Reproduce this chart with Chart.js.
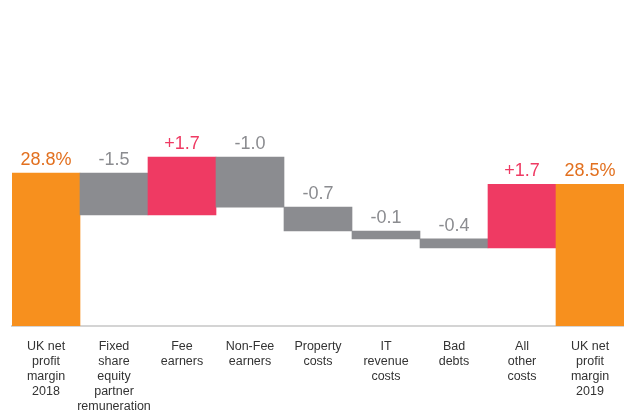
<!DOCTYPE html>
<html>
<head>
<meta charset="utf-8">
<script src="https://cdn.jsdelivr.net/npm/chart.js@4.4.1/dist/chart.umd.min.js"></script>
<style>
  html, body { margin: 0; padding: 0; background: #fff; }
  #wrap { width: 624px; height: 418px; }
</style>
</head>
<body>
<div id="wrap"><canvas id="grafico" width="624" height="418"></canvas></div>
<script>
// categorias (eixo X)
const categorias = [
  ['UK net', 'profit', 'margin', '2018'],
  ['Fixed', 'share', 'equity', 'partner', 'remuneration'],
  ['Fee', 'earners'],
  ['Non-Fee', 'earners'],
  ['Property', 'costs'],
  ['IT', 'revenue', 'costs'],
  ['Bad', 'debts'],
  ['All', 'other', 'costs'],
  ['UK net', 'profit', 'margin', '2019']
];

// rótulos mostrados acima de cada barra
const rotulos = ['28.8%', '-1.5', '+1.7', '-1.0', '-0.7', '-0.1', '-0.4', '+1.7', '28.5%'];

// tipo de cada barra: total, negativo, positivo
const tipos = ['total', 'neg', 'pos', 'neg', 'neg', 'neg', 'neg', 'pos', 'total'];

// níveis desenhados no gráfico (escala esquemática do original, não proporcional)
const inicio = [0, 28.8, 20.9, 31.8, 22.4, 17.9, 16.4, 14.7, 0];
const fim    = [28.8, 20.9, 31.8, 22.4, 17.9, 16.4, 14.7, 26.7, 26.7];

const coresBarra = { total: '#F7901E', neg: '#8B8C90', pos: '#EF3A63' };
const coresTexto = { total: '#E2701F', neg: '#8B8C90', pos: '#EF3A63' };

const dados = inicio.map((v, i) => [v, fim[i]]);

// plugin simples para escrever os valores acima das barras
const rotulosPlugin = {
  id: 'rotulos',
  afterDatasetsDraw(chart) {
    const ctx = chart.ctx;
    const meta = chart.getDatasetMeta(0);
    ctx.save();
    ctx.font = '18px "Liberation Sans", Arial, sans-serif';
    ctx.textAlign = 'center';
    ctx.textBaseline = 'alphabetic';
    meta.data.forEach((bar, i) => {
      const topo = Math.min(bar.y, bar.base);
      ctx.fillStyle = coresTexto[tipos[i]];
      ctx.fillText(rotulos[i], bar.x, topo - 8);
    });
    ctx.restore();
  }
};

const ctx = document.getElementById('grafico').getContext('2d');

new Chart(ctx, {
  type: 'bar',
  data: {
    labels: categorias,
    datasets: [{
      data: dados,
      backgroundColor: tipos.map(t => coresBarra[t]),
      borderWidth: 0,
      categoryPercentage: 1,
      barPercentage: 1
    }]
  },
  options: {
    responsive: false,
    animation: false,
    layout: { padding: { left: 12, right: 0, top: 0, bottom: -9 } },
    plugins: {
      legend: { display: false },
      tooltip: { enabled: false }
    },
    scales: {
      x: {
        grid: { display: false, drawTicks: false },
        border: { display: true, color: '#D4D4D4', width: 2 },
        ticks: {
          color: '#333333',
          padding: 13,
          maxRotation: 0,
          autoSkip: false,
          font: { family: '"Liberation Sans", Arial, sans-serif', size: 12.5, lineHeight: '15px' }
        }
      },
      y: {
        display: false,
        min: 0,
        max: 61.4
      }
    }
  },
  plugins: [rotulosPlugin]
});
</script>
</body>
</html>
